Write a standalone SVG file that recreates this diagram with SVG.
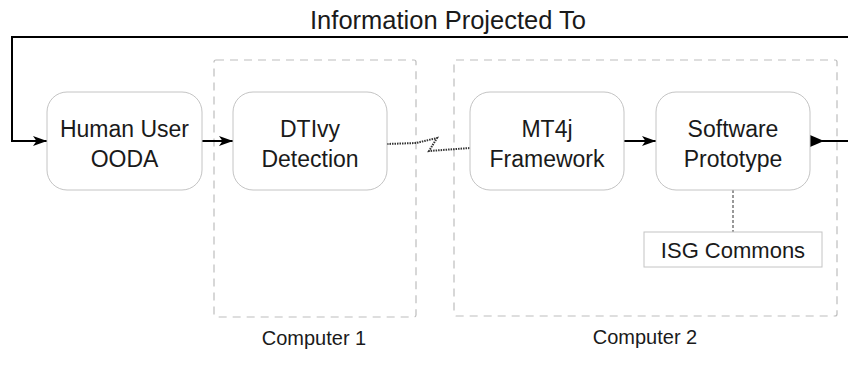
<svg xmlns="http://www.w3.org/2000/svg" width="848" height="378" viewBox="0 0 848 378">
<style>
.node{fill:#fff;stroke:#c4c4c4;stroke-width:1}
.grp{fill:none;stroke:#bdbdbd;stroke-width:1.2;stroke-dasharray:8,6}
.t{font-family:"Liberation Sans",Arial,sans-serif;fill:#1a1a1a;text-anchor:middle}
.big{font-size:23px}
.title{font-size:25.5px}
.isg{font-size:22px}
.small{font-size:20px}
.conn{fill:none;stroke:#000;stroke-width:2}
.dot{fill:none;stroke:#333;stroke-width:2;stroke-dasharray:1.5,1}
.dline{fill:none;stroke:#333;stroke-width:1;stroke-dasharray:3,2}
</style>
<defs>
<marker id="arr" viewBox="0 0 14 10" refX="14" refY="5" markerWidth="14" markerHeight="10" markerUnits="userSpaceOnUse" orient="auto">
<path d="M0,0 L14,5 L0,10 L3.5,5 Z" fill="#000"/>
</marker>
</defs>
<g id="computer1">
<rect class="grp" x="214" y="60" width="202" height="257" rx="2"/>
<text class="t small" x="314" y="345">Computer 1</text>
</g>
<g id="computer2">
<rect class="grp" x="454" y="60" width="383" height="256" rx="2"/>
<text class="t small" x="645" y="344">Computer 2</text>
</g>
<text class="t title" x="448" y="29">Information Projected To</text>
<g id="connectors">
<path class="conn" d="M848,37 L12,37 L12,141 L47,141" marker-end="url(#arr)"/>
<path class="conn" d="M202,141 L233,141" marker-end="url(#arr)"/>
<path class="conn" d="M624,141 L656,141" marker-end="url(#arr)"/>
<path class="conn" d="M822,141 L848,141"/>
<path d="M810,135 L824,141 L810,147 Z" fill="#000"/>
<path class="dot" d="M387,144 L416,143 L437,138 L429,151 L470,148"/>
<path class="dline" d="M733,190 L733,232"/>
</g>
<g id="human">
<rect class="node" x="47" y="92" width="155" height="98" rx="20"/>
<text class="t big" x="124.5" y="137">Human User</text>
<text class="t big" x="124.5" y="167">OODA</text>
</g>
<g id="dtivy">
<rect class="node" x="233" y="92" width="154" height="98" rx="20"/>
<text class="t big" x="310" y="137">DTIvy</text>
<text class="t big" x="310" y="167">Detection</text>
</g>
<g id="mt4j">
<rect class="node" x="470" y="92" width="154" height="98" rx="20"/>
<text class="t big" x="547" y="137">MT4j</text>
<text class="t big" x="547" y="167">Framework</text>
</g>
<g id="software">
<rect class="node" x="656" y="92" width="154" height="98" rx="20"/>
<text class="t big" x="733" y="137">Software</text>
<text class="t big" x="733" y="167">Prototype</text>
</g>
<g id="isg">
<rect class="node" x="644" y="232" width="178" height="35"/>
<text class="t isg" x="733" y="258">ISG Commons</text>
</g>
</svg>
